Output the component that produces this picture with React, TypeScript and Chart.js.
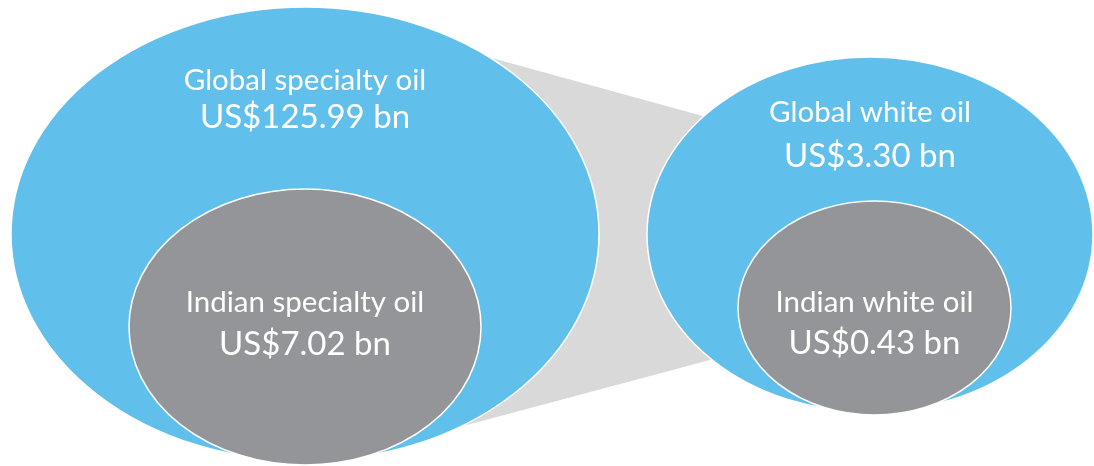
import React, { useEffect, useRef } from "react";
import { Chart, registerables } from "chart.js";

Chart.register(...registerables);

// ---- data ----
const categories = [
  "Global specialty oil",
  "Indian specialty oil",
  "Global white oil",
  "Indian white oil",
];
const marketValuesBn = [125.99, 7.02, 3.3, 0.43];
const currencyPrefix = "US$";
const unitSuffix = " bn";

// ---- layout (scale units; scales span the page in pixels-like units) ----
const ellipseCenterX = [305, 305, 870, 874.5];
const ellipseCenterY = [234, 327, 234.5, 308];
const ellipseRadiusX = [294, 176, 223, 136.5];
const ellipseRadiusY = [227, 138, 177.5, 107];
const nameBaselineY = [90, 312, 122, 312];
const valueBaselineY = [128, 355, 167, 354];
const connectorX = [470, 720, 725, 450];
const connectorY = [52, 120.7, 356, 429.4];

// ---- styles ----
const fillColors = ["#61bfeb", "#939598", "#61bfeb", "#939598"];
const connectorColor = "#d9d9d9";
const FONT = "Lato, 'Open Sans', sans-serif";

const formatValue = (v: number) => `${currencyPrefix}${v.toFixed(2)}${unitSuffix}`;

const ellipsePlugin = {
  id: "ellipseDiagram",
  beforeDatasetsDraw(chart: any) {
    const { ctx } = chart;
    const xs = chart.scales.x;
    const ys = chart.scales.y;
    // connector
    ctx.save();
    ctx.beginPath();
    connectorX.forEach((x, i) => {
      const px = xs.getPixelForValue(x);
      const py = ys.getPixelForValue(connectorY[i]);
      if (i === 0) ctx.moveTo(px, py);
      else ctx.lineTo(px, py);
    });
    ctx.closePath();
    ctx.fillStyle = connectorColor;
    ctx.fill();
    ctx.restore();

    const meta = chart.getDatasetMeta(0);
    const order = [0, 2, 1, 3];
    order.forEach((i) => {
      const el = meta.data[i];
      const cx = el.x;
      const cy = el.y;
      const rx = Math.abs(xs.getPixelForValue(ellipseCenterX[i] + ellipseRadiusX[i]) - cx);
      const ry = Math.abs(ys.getPixelForValue(ellipseCenterY[i] + ellipseRadiusY[i]) - cy);
      ctx.save();
      ctx.beginPath();
      ctx.ellipse(cx, cy, rx, ry, 0, 0, Math.PI * 2);
      ctx.fillStyle = fillColors[i];
      ctx.fill();
      ctx.lineWidth = 1.5;
      ctx.strokeStyle = "#ffffff";
      ctx.stroke();
      ctx.restore();
    });
  },
  afterDatasetsDraw(chart: any) {
    const { ctx } = chart;
    const ys = chart.scales.y;
    const meta = chart.getDatasetMeta(0);
    categories.forEach((name, i) => {
      const el = meta.data[i];
      ctx.save();
      ctx.fillStyle = "#ffffff";
      ctx.textAlign = "center";
      ctx.textBaseline = "alphabetic";
      ctx.font = `29.5px ${FONT}`;
      ctx.fillText(name, el.x, ys.getPixelForValue(nameBaselineY[i]));
      ctx.font = `33px ${FONT}`;
      ctx.fillText(formatValue(marketValuesBn[i]), el.x, ys.getPixelForValue(valueBaselineY[i]));
      ctx.restore();
    });
  },
};

export default function App() {
  const canvasRef = useRef<HTMLCanvasElement | null>(null);

  useEffect(() => {
    if (!canvasRef.current) return;
    const chart = new Chart(canvasRef.current, {
      type: "scatter",
      data: {
        datasets: [
          {
            label: "Market size (US$ bn)",
            data: categories.map((c, i) => ({ x: ellipseCenterX[i], y: ellipseCenterY[i], v: marketValuesBn[i] })) as any,
            pointRadius: 0,
            pointHoverRadius: 0,
          },
        ],
      },
      options: {
        animation: false,
        responsive: true,
        maintainAspectRatio: false,
        layout: { padding: 0 },
        plugins: { legend: { display: false }, tooltip: { enabled: false } },
        events: [],
        scales: {
          x: { type: "linear", min: 0, max: 1094, display: false },
          y: { type: "linear", min: 0, max: 466, reverse: true, display: false },
        },
      },
      plugins: [ellipsePlugin],
    });
    return () => chart.destroy();
  }, []);

  return (
    <div style={{ position: "fixed", left: 0, top: 0, width: "1094px", height: "466px", background: "#ffffff" }}>
      <canvas ref={canvasRef} />
    </div>
  );
}
